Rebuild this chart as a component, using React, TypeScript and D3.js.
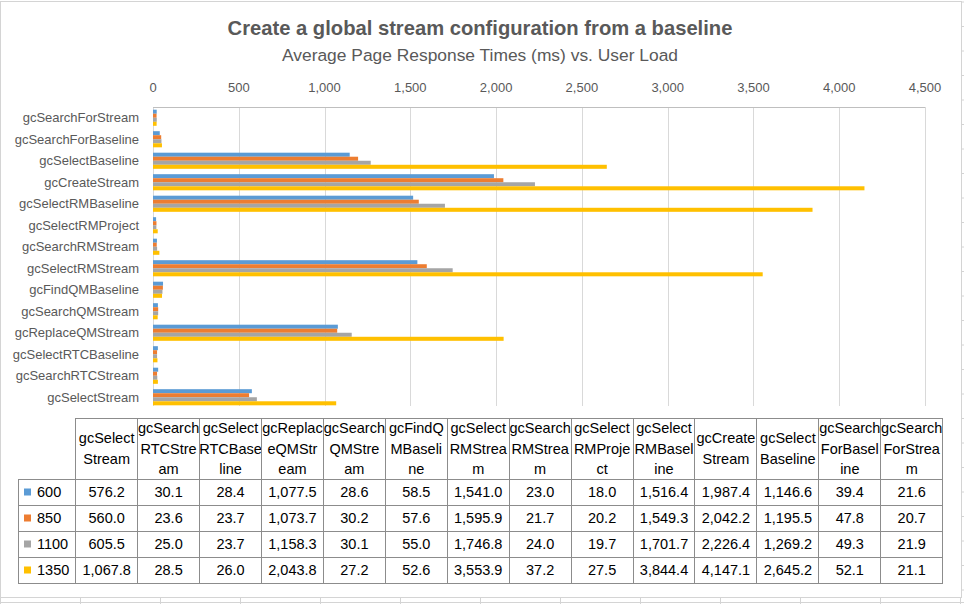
import React from "react";
import * as d3 from "d3";

const categories = [
  "gcSelectStream", "gcSearchRTCStream", "gcSelectRTCBaseline", "gcReplaceQMStream",
  "gcSearchQMStream", "gcFindQMBaseline", "gcSelectRMStream", "gcSearchRMStream",
  "gcSelectRMProject", "gcSelectRMBaseline", "gcCreateStream", "gcSelectBaseline",
  "gcSearchForBaseline", "gcSearchForStream",
];

const headerLines = [
  ["gcSelect", "Stream"], ["gcSearch", "RTCStre", "am"], ["gcSelect", "RTCBase", "line"],
  ["gcReplac", "eQMStr", "eam"], ["gcSearch", "QMStre", "am"], ["gcFindQ", "MBaseli", "ne"],
  ["gcSelect", "RMStrea", "m"], ["gcSearch", "RMStrea", "m"], ["gcSelect", "RMProje", "ct"],
  ["gcSelect", "RMBasel", "ine"], ["gcCreate", "Stream"], ["gcSelect", "Baseline"],
  ["gcSearch", "ForBasel", "ine"], ["gcSearch", "ForStrea", "m"],
];

const seriesNames = ["600", "850", "1100", "1350"];
const seriesColors = ["#5B9BD5", "#ED7D31", "#A5A5A5", "#FFC000"];

const s600 = [576.2, 30.1, 28.4, 1077.5, 28.6, 58.5, 1541.0, 23.0, 18.0, 1516.4, 1987.4, 1146.6, 39.4, 21.6];
const s850 = [560.0, 23.6, 23.7, 1073.7, 30.2, 57.6, 1595.9, 21.7, 20.2, 1549.3, 2042.2, 1195.5, 47.8, 20.7];
const s1100 = [605.5, 25.0, 23.7, 1158.3, 30.1, 55.0, 1746.8, 24.0, 19.7, 1701.7, 2226.4, 1269.2, 49.3, 21.9];
const s1350 = [1067.8, 28.5, 26.0, 2043.8, 27.2, 52.6, 3553.9, 37.2, 27.5, 3844.4, 4147.1, 2645.2, 52.1, 21.1];
const seriesValues = [s600, s850, s1100, s1350];

const xTicks = [0, 500, 1000, 1500, 2000, 2500, 3000, 3500, 4000, 4500];

const W = 964;
const H = 604;
const FONT = "'Liberation Sans', Arial, sans-serif";
const fmt = d3.format(",.1f");

export default function App() {
  const x = d3.scaleLinear().domain([0, 4500]).range([153, 925]);
  const y = d3
    .scaleBand<string>()
    .domain([...categories].reverse())
    .range([107, 408])
    .paddingInner(0.25)
    .paddingOuter(0.125);
  const ys = d3.scaleBand<string>().domain(seriesNames).range([0, y.bandwidth()]);

  const tableLeft = 75.7;
  const colW = (942.7 - tableLeft) / categories.length;
  const headTop = 418.3;
  const headBottom = 479;
  const rowH = 26;
  const labelLeft = 18.3;
  const col = d3.scaleBand<string>().domain(categories).range([tableLeft, tableLeft + colW * categories.length]);
  const tableBottom = headBottom + rowH * seriesNames.length;
  const border = "#8c8c8c";

  const sheetCols = d3.range(0, W + 80, 80);

  return (
    <svg width={W} height={H} style={{ position: "absolute", left: 0, top: 0, background: "#fff" }} fontFamily={FONT}>
      {sheetCols.map((c) => (
        <line key={"sc" + c} x1={c + 0.5} x2={c + 0.5} y1={598} y2={H} stroke="#d4d4d4" />
      ))}
      <line x1={0} x2={W} y1={602.5} y2={602.5} stroke="#d4d4d4" />
      {d3.range(2, 600, 24.5).map((r) => (
        <line key={"sr" + r} x1={962} x2={W} y1={r} y2={r} stroke="#d4d4d4" />
      ))}
      <rect x={0.5} y={1.5} width={961} height={596} fill="#fff" stroke="#d4d4d4" />

      <text x={480} y={28} textAnchor="middle" dy="0.35em" fontSize={20.2} fontWeight="bold" fill="#595959">
        Create a global stream configuration from a baseline
      </text>
      <text x={480} y={55} textAnchor="middle" dy="0.35em" fontSize={17.4} fill="#595959">
        Average Page Response Times (ms) vs. User Load
      </text>

      {xTicks.map((t) => (
        <g key={"t" + t}>
          <line x1={Math.round(x(t)) + 0.5} x2={Math.round(x(t)) + 0.5} y1={107} y2={406} stroke="#d9d9d9" />
          <text x={x(t)} y={87.5} dy="0.35em" textAnchor="middle" fontSize={13} fill="#595959">
            {d3.format(",")(t)}
          </text>
        </g>
      ))}
      <line x1={x(0)} x2={x(4500)} y1={107.5} y2={107.5} stroke="#bfbfbf" />

      {categories.map((c, ci) => (
        <g key={"g" + c}>
          <text x={139} y={(y(c) as number) + y.bandwidth() / 2} dy="0.35em" textAnchor="end" fontSize={13} fill="#595959">
            {c}
          </text>
          {seriesNames.map((s, si) => (
            <rect
              key={s}
              x={x(0)}
              y={(y(c) as number) + (ys(s) as number)}
              width={x(seriesValues[si][ci]) - x(0)}
              height={ys.bandwidth()}
              fill={seriesColors[si]}
            />
          ))}
        </g>
      ))}

      <g fontSize={14.5} fill="#000">
        {categories.map((c, ci) => {
          const lines = headerLines[ci];
          const cx = (col(c) as number) + colW / 2;
          const mid = (headTop + headBottom) / 2;
          return (
            <g key={"h" + c}>
              {lines.map((ln, li) => (
                <text key={li} x={cx} y={mid + (li - (lines.length - 1) / 2) * 20.7} dy="0.35em" textAnchor="middle">
                  {ln}
                </text>
              ))}
              {seriesNames.map((s, si) => (
                <text key={s} x={cx} y={headBottom + rowH * si + rowH / 2} dy="0.35em" textAnchor="middle">
                  {fmt(seriesValues[si][ci])}
                </text>
              ))}
            </g>
          );
        })}
        {seriesNames.map((s, si) => (
          <g key={"lg" + s}>
            <rect x={24} y={headBottom + rowH * si + rowH / 2 - 3.5} width={7} height={7} fill={seriesColors[si]} />
            <text x={37} y={headBottom + rowH * si + rowH / 2} dy="0.35em">
              {s}
            </text>
          </g>
        ))}
      </g>
      <g stroke={border} fill="none" shapeRendering="crispEdges">
        <line x1={tableLeft} x2={tableLeft + colW * categories.length} y1={headTop} y2={headTop} />
        {d3.range(seriesNames.length + 1).map((i) => (
          <line key={"hr" + i} x1={labelLeft} x2={tableLeft + colW * categories.length} y1={headBottom + rowH * i} y2={headBottom + rowH * i} />
        ))}
        <line x1={labelLeft} x2={labelLeft} y1={headBottom} y2={tableBottom} />
        {d3.range(categories.length + 1).map((i) => (
          <line key={"vc" + i} x1={tableLeft + colW * i} x2={tableLeft + colW * i} y1={headTop} y2={tableBottom} />
        ))}
      </g>
    </svg>
  );
}
